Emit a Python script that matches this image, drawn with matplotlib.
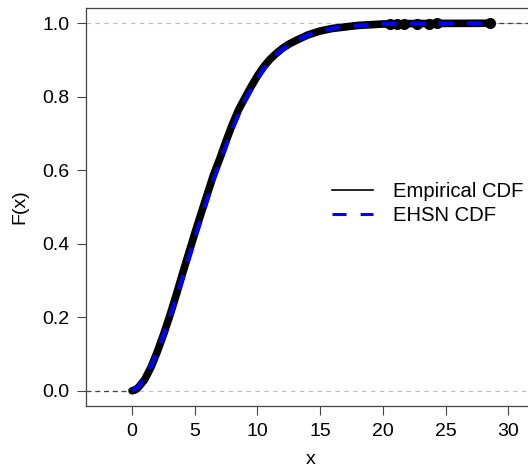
import matplotlib
matplotlib.use("Agg")
import matplotlib.pyplot as plt
from matplotlib.lines import Line2D

plt.rcParams['font.family'] = ['Liberation Sans', 'DejaVu Sans']

# empirical CDF
ecdf_x = [0, 0.25, 0.5, 1.0, 1.5, 2.0, 2.5, 3.0, 3.5, 4.0, 4.5, 5.0, 5.5,
          6.0, 6.5, 7.0, 7.5, 8.0, 8.5, 9.0, 9.5, 10.0, 10.5, 11.0, 11.5,
          12.0, 12.5, 13.0, 14.0, 15.0, 16.0, 17.0, 18.0, 19.0, 20.0, 21.0,
          22.0, 24.3, 28.5]
ecdf_F = [0, 0.002, 0.009, 0.03, 0.063, 0.105, 0.152, 0.203, 0.258, 0.316,
          0.372, 0.428, 0.482, 0.535, 0.588, 0.632, 0.68, 0.725, 0.765,
          0.797, 0.828, 0.857, 0.882, 0.902, 0.918, 0.932, 0.943, 0.952,
          0.968, 0.979, 0.986, 0.99, 0.994, 0.996, 0.998, 0.998, 0.999,
          0.9995, 1.0]
# isolated sample points in the upper tail
tail_x = [20.6, 21.1, 21.65, 22.7, 23.65, 24.3, 28.5]
tail_F = [0.998, 0.998, 0.999, 0.999, 0.999, 1.0, 1.0]

# fitted EHSN CDF
ehsn_x = [0, 0.5, 1.0, 1.5, 2.0, 2.5, 3.0, 3.5, 4.0, 4.5, 5.0, 5.5, 6.0,
          6.5, 7.0, 7.5, 8.0, 8.5, 9.0, 9.5, 10.0, 10.5, 11.0, 11.5, 12.0,
          12.5, 13.0, 14.0, 15.0, 16.0, 17.0, 18.0, 19.0, 20.0, 22.0, 24.3,
          28.5]
ehsn_F = [0, 0.012, 0.035, 0.068, 0.108, 0.152, 0.2, 0.25, 0.305, 0.36,
          0.415, 0.47, 0.523, 0.575, 0.622, 0.668, 0.713, 0.753, 0.79,
          0.822, 0.851, 0.876, 0.897, 0.915, 0.93, 0.942, 0.952, 0.968,
          0.979, 0.986, 0.991, 0.994, 0.996, 0.998, 0.999, 0.9995, 1.0]

xticks = [0, 5, 10, 15, 20, 25, 30]
yticks = [0.0, 0.2, 0.4, 0.6, 0.8, 1.0]
xlim = (-3.67, 32.2)
ylim = (-0.0415, 1.0415)

fig = plt.figure(figsize=(5.28, 4.73), dpi=100)
ax = fig.add_axes([86 / 528, 67 / 473, 450 / 528, 398 / 473])
ax.set_xlim(xlim)
ax.set_ylim(ylim)

# reference lines at 0 and 1
for h in (0, 1):
    ax.axhline(h, color='#bdbdbd', lw=0.8, dashes=(4, 4), zorder=1)
ax.plot([xlim[0], ecdf_x[0]], [0, 0], color='#444444', lw=0.9, dashes=(4, 3), zorder=2)
ax.plot([ecdf_x[-1], xlim[1]], [1, 1], color='#444444', lw=0.9, dashes=(4, 3), zorder=2)

ax.plot(ecdf_x, ecdf_F, color='black', lw=5.5, solid_capstyle='round',
        solid_joinstyle='round', zorder=3)
ax.plot(tail_x, tail_F, 'o', color='black', ms=7, zorder=3)
ax.plot(ehsn_x, ehsn_F, color='#0000ff', lw=3, dashes=(3.6, 3.2), zorder=4)

ax.spines['right'].set_visible(False)
for s in ('left', 'bottom', 'top'):
    ax.spines[s].set_color('#444444')
    ax.spines[s].set_linewidth(0.9)

ax.set_xticks(xticks)
ax.set_yticks(yticks)
ax.set_yticklabels([f"{v:.1f}" for v in yticks])
ax.tick_params(axis='both', labelsize=14, length=6.5, width=0.8,
               color='#444444', pad=5.5)

ax.set_xlabel('x', fontsize=14, labelpad=8)
ax.set_ylabel('F(x)', fontsize=14, labelpad=10)

handles = [Line2D([], [], color='black', lw=1.2),
           Line2D([], [], color='#0000ff', lw=2.2, dashes=(4.6, 4.6))]
fig.legend(handles, ['Empirical CDF', 'EHSN CDF'], loc='upper left',
           bbox_to_anchor=(332 / 528, 1 - 182 / 473), frameon=False,
           fontsize=14.6, handlelength=2.0, handletextpad=1.0,
           labelspacing=0.25, borderpad=0, borderaxespad=0)

fig.savefig('out.png', dpi=100)
